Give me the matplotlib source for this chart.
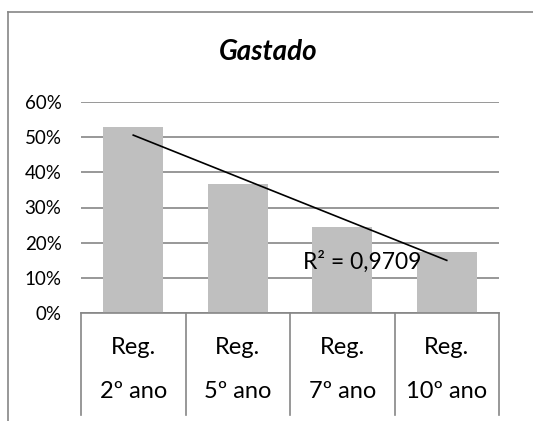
import numpy as np
import matplotlib.pyplot as plt
from matplotlib.lines import Line2D
import matplotlib.transforms as mtransforms

plt.rcParams['font.family'] = ['Lato', 'DejaVu Sans']

# dados
categorias_l1 = ["Reg.", "Reg.", "Reg.", "Reg."]
categorias_l2 = ["2º ano", "5º ano", "7º ano", "10º ano"]
gastado = [0.528, 0.366, 0.244, 0.173]
yticks = [0.0, 0.1, 0.2, 0.3, 0.4, 0.5, 0.6]
r2_texto = "R² = 0,9709"

W, H = 533, 421
fig = plt.figure(figsize=(W / 100, H / 100), dpi=100)
ax = fig.add_axes([81 / W, 1 - 313 / H, 418 / W, 211 / H])

x = np.arange(len(gastado))
ax.bar(x, gastado, width=0.57, color="#bfbfbf", zorder=2)

# linha de tendência linear
coef = np.polyfit(x, gastado, 1)
ax.plot(x, np.polyval(coef, x), color="black", lw=1.2, zorder=3)
ax.text(2.19, 0.145, r2_texto, fontsize=16.5, ha="center", va="center", zorder=4)

ax.set_xlim(-0.5, len(gastado) - 0.5)
ax.set_ylim(0, 0.6)
ax.set_yticks(yticks)
ax.set_yticklabels([f"{int(round(v * 100))}%" for v in yticks], fontsize=13.5)
ax.tick_params(axis="y", length=0, pad=14)
ax.set_xticks([])
ax.grid(axis="y", color="#868686", lw=1.2, zorder=0)
for s in ["top", "right", "left"]:
    ax.spines[s].set_visible(False)
ax.spines["bottom"].set_color("#868686")
ax.spines["bottom"].set_linewidth(1.2)
ax.spines["bottom"].set_zorder(5)

# rótulos de categoria em duas linhas com separadores
trans = mtransforms.blended_transform_factory(ax.transData, ax.transAxes)
fundo = -102 / 211
for i in range(len(gastado) + 1):
    ax.plot([i - 0.5, i - 0.5], [0, fundo], transform=trans, color="#868686",
            lw=1.2, clip_on=False)
for i, (a, b) in enumerate(zip(categorias_l1, categorias_l2)):
    ax.text(i, -35 / 211, a, transform=trans, fontsize=17, ha="center", va="center")
    ax.text(i, -78 / 211, b, transform=trans, fontsize=17, ha="center", va="center")

fig.text(268 / W, 1 - 52 / H, "Gastado", fontsize=20, fontweight="bold",
         fontstyle="italic", ha="center", va="center")

# moldura do gráfico
fig.add_artist(Line2D([8 / W, 1.01], [1 - 12 / H, 1 - 12 / H], color="#868686", lw=1.2))
fig.add_artist(Line2D([8 / W, 8 / W], [-0.01, 1 - 12 / H], color="#868686", lw=1.2))

fig.savefig("out.png", dpi=100)
